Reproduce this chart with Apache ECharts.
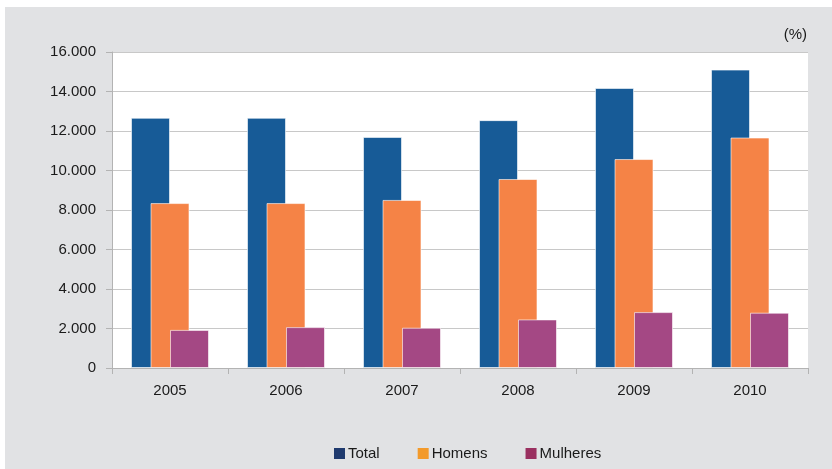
<!DOCTYPE html>
<html>
<head>
    <meta charset="utf-8">
    <style>
        body { margin: 0; background: #fff; }
        #main { width: 832px; height: 469px; }
    </style>
    <script src="https://cdn.jsdelivr.net/npm/echarts@6/dist/echarts.min.js"></script>
</head>
<body>
    <div id="main"></div>
    <script type="text/javascript">
        var years = ['2005', '2006', '2007', '2008', '2009', '2010'];
        var total = [12670, 12670, 11700, 12550, 14180, 15110];
        var homens = [8350, 8350, 8510, 9570, 10580, 11670];
        var mulheres = [1930, 2070, 2040, 2460, 2830, 2800];

        var myChart = echarts.init(document.getElementById('main'));

        function fmt(v) {
            if (v === 0) return '0';
            return (v / 1000).toFixed(3);
        }

        var barBorder = { borderColor: 'rgba(255,255,255,0.6)', borderWidth: 1 };

        var option = {
            animation: false,
            textStyle: { fontFamily: 'Liberation Sans, Arial, sans-serif' },
            graphic: [
                {
                    type: 'rect', z: -10, silent: true,
                    shape: { x: 5, y: 7, width: 827, height: 462 },
                    style: { fill: '#e1e2e4' }
                },
                {
                    type: 'text', right: 25, top: 27,
                    style: { text: '(%)', fill: '#1a1a1a', fontSize: 15, fontFamily: 'Liberation Sans, Arial, sans-serif' }
                }
            ],
            grid: {
                left: 112, right: 24, top: 52, bottom: 101,
                show: true, backgroundColor: '#fff', borderWidth: 0
            },
            legend: {
                left: 329, top: 441,
                itemWidth: 11, itemHeight: 11, itemGap: 38,
                textStyle: { fontSize: 15, color: '#1a1a1a', padding: [0, 0, 0, -2] },
                data: [
                    { name: 'Total', icon: 'rect', itemStyle: { color: '#1f3a6e', borderWidth: 0 } },
                    { name: 'Homens', icon: 'rect', itemStyle: { color: '#f39a2a', borderWidth: 0 } },
                    { name: 'Mulheres', icon: 'rect', itemStyle: { color: '#9a3060', borderWidth: 0 } }
                ]
            },
            xAxis: {
                type: 'category',
                data: years,
                axisLine: { lineStyle: { color: '#b3b3b3' } },
                axisTick: { show: true, length: 6, lineStyle: { color: '#b3b3b3' } },
                axisLabel: { fontSize: 15, color: '#1a1a1a', margin: 15 }
            },
            yAxis: {
                type: 'value',
                min: 0, max: 16000, interval: 2000,
                axisLine: { show: true, lineStyle: { color: '#b3b3b3' } },
                axisTick: { show: true, length: 6, lineStyle: { color: '#b3b3b3' } },
                splitLine: { lineStyle: { color: '#c8c8c8' } },
                axisLabel: { fontSize: 15, color: '#1a1a1a', margin: 16, formatter: fmt }
            },
            series: [
                {
                    name: 'Total', type: 'bar', data: total,
                    barWidth: 39, barGap: '-50%',
                    itemStyle: Object.assign({ color: '#175b97' }, barBorder)
                },
                {
                    name: 'Homens', type: 'bar', data: homens,
                    barWidth: 39, barGap: '-50%',
                    itemStyle: Object.assign({ color: '#f58346' }, barBorder)
                },
                {
                    name: 'Mulheres', type: 'bar', data: mulheres,
                    barWidth: 39, barGap: '-50%',
                    itemStyle: Object.assign({ color: '#a44884' }, barBorder)
                }
            ]
        };

        myChart.setOption(option);
    </script>
</body>
</html>
